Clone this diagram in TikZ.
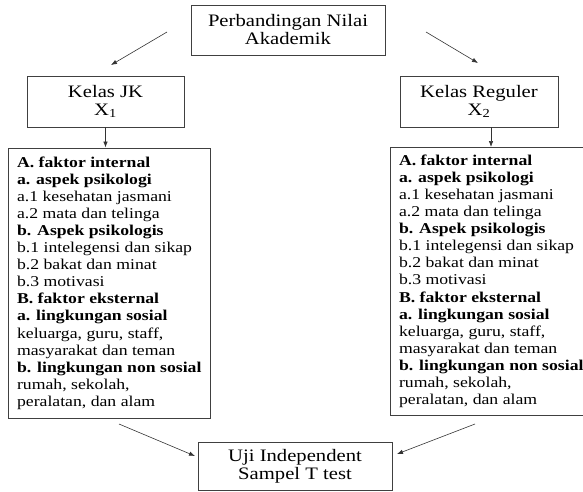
\documentclass[tikz,border=0pt]{standalone}
\usepackage{fontspec}
\setmainfont{Liberation Serif}[FakeStretch=1.18]
\usetikzlibrary{arrows.meta,calc}

\tikzset{
    box/.style = {draw=black!75, line width=0.6pt, align=center, inner sep=0pt, font=\fontsize{17.5}{18}\selectfont},
    listbox/.style = {draw=black!75, line width=0.6pt, align=left, inner sep=0pt, font=\fontsize{15}{17.1}\selectfont},
    arr/.style = {draw=black!80, line width=0.6pt, -{Latex[length=6pt, width=4.5pt]}}
}

\newcommand{\faktorlist}{%
    \textbf{A. faktor internal}\\
    \textbf{a. aspek psikologi}\\
    a.1 kesehatan jasmani\\
    a.2 mata dan telinga\\
    \textbf{b. Aspek psikologis}\\
    b.1 intelegensi dan sikap\\
    b.2 bakat dan minat\\
    b.3 motivasi\\
    \textbf{B. faktor eksternal}\\
    \textbf{a. lingkungan sosial}\\
    keluarga, guru, staff,\\
    masyarakat dan teman\\
    \textbf{b. lingkungan non sosial}\\
    rumah, sekolah,\\
    peralatan, dan alam}

\begin{document}
\begin{tikzpicture}[x=1pt, y=-1pt]
            \useasboundingbox (0,0) rectangle (583,491);
            \clip (0,0) rectangle (583,491);

            % boxes
            \node[box, minimum width=194, minimum height=50] (nilai) at (288,30) {Perbandingan Nilai\\Akademik};
            \node[box, minimum width=157, minimum height=51] (jk) at (105.5,101.5) {Kelas JK\\X\textsubscript{1}};
            \node[box, minimum width=158, minimum height=51] (reguler) at (479,101.5) {Kelas Reguler\\X\textsubscript{2}};
            \node[listbox, anchor=north west, minimum width=202, minimum height=270.5] (faktorjk) at (8,147.5) {\faktorlist};
            \node[listbox, anchor=north west, minimum width=202, minimum height=268] (faktorreg) at (390,147) {\faktorlist};
            \node[box, minimum width=194, minimum height=48] (uji) at (295,466) {Uji Independent\\Sampel T test};

            % free arrow ends
            \coordinate (n1) at (167,32);
            \coordinate (j1) at (111,65);
            \coordinate (n2) at (426,32);
            \coordinate (r1) at (478,63);
            \coordinate (f1) at (119,424);
            \coordinate (u1) at (195,456);
            \coordinate (f2) at (475,424);
            \coordinate (u2) at (397,454);

            \draw[arr] (n1) -- (j1);
            \draw[arr] (n2) -- (r1);
            \draw[arr] (jk.south) -- (jk.south |- faktorjk.north);
            \draw[arr] ([xshift=12pt]reguler.south) -- ([xshift=12pt]reguler.south |- faktorreg.north);
            \draw[arr] (f1) -- (u1);
            \draw[arr] (f2) -- (u2);
            %\draw[arr] (faktorjk) -- (uji);
\end{tikzpicture}
\end{document}
